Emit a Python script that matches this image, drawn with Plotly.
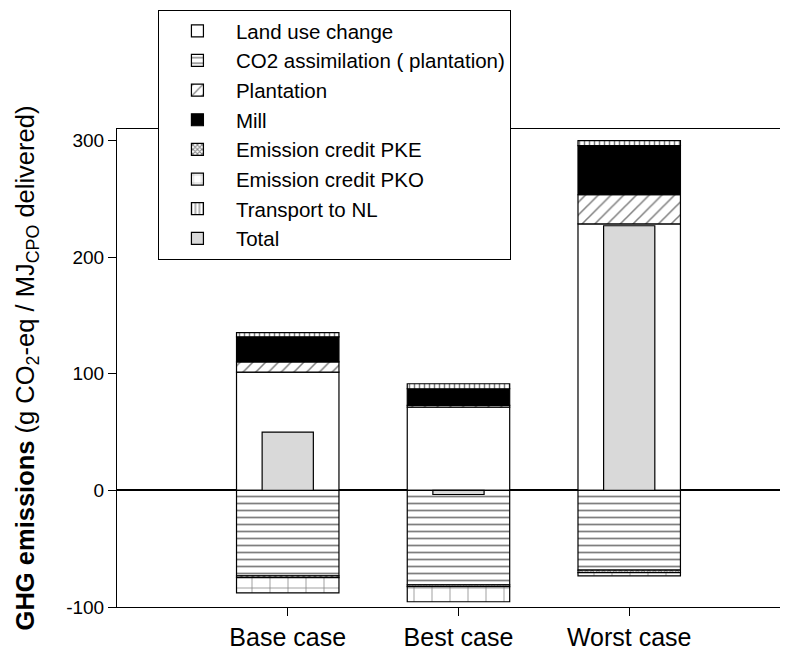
import numpy as np
import plotly.graph_objects as go

cases = ["Base case", "Best case", "Worst case"]
land_use = [101.5, 71.4, 228.6]
co2_assim = [-73.3, -81.0, -68.4]
plantation = [8.7, 1.5, 25.0]
mill = [21.5, 14.3, 42.2]
credit_pke = [-1.5, -1.5, -2.1]
credit_pko = [-13.0, -13.0, -2.8]
transport = [3.7, 4.3, 4.3]
total = [50.0, -3.5, 227.0]
y_ticks = [-100, 0, 100, 200, 300]
y_tick_labels = ["-100", "0", "100", "200", "300"]

pos_series = [
    ("Land use change", land_use, dict(shape="", fgcolor="black", bgcolor="white")),
    ("Plantation", plantation, dict(shape="/", fgcolor="black", bgcolor="white", size=9, solidity=0.17)),
    ("Mill", mill, dict(shape="", fgcolor="black", bgcolor="black")),
    ("Transport to NL", transport, dict(shape="|", fgcolor="black", bgcolor="white", size=5, solidity=0.3)),
]
neg_series = [
    ("CO2 assimilation ( plantation)", co2_assim, dict(shape="-", fgcolor="black", bgcolor="white", size=7, solidity=0.25)),
    ("Emission credit PKE", credit_pke, dict(shape="x", fgcolor="black", bgcolor="white", size=4, solidity=0.5)),
    ("Emission credit PKO", credit_pko, dict(shape="+", fgcolor="black", bgcolor="white", size=18, solidity=0.08)),
]
legend_rank = {
    "Land use change": 1, "CO2 assimilation ( plantation)": 2, "Plantation": 3, "Mill": 4,
    "Emission credit PKE": 5, "Emission credit PKO": 6, "Transport to NL": 7, "Total": 8,
}

fig = go.Figure()

def add_stack(series):
    base = np.zeros(len(cases))
    for name, vals, pat in series:
        vals = np.array(vals, dtype=float)
        color = "black" if name == "Mill" else "white"
        fig.add_trace(go.Bar(
            x=cases, y=vals, base=base.copy(), name=name, width=0.6,
            marker=dict(color=color, line=dict(color="black", width=1.2), pattern=pat),
            legendrank=legend_rank[name],
        ))
        base = base + vals

add_stack(pos_series)
add_stack(neg_series)

fig.add_trace(go.Bar(
    x=cases, y=total, name="Total", width=0.3,
    marker=dict(color="#d9d9d9", line=dict(color="black", width=1.2)),
    legendrank=legend_rank["Total"],
))

font_family = "Liberation Sans, Arial, sans-serif"
fig.update_layout(
    width=780, height=648,
    barmode="overlay",
    plot_bgcolor="white", paper_bgcolor="white",
    margin=dict(l=109, r=0, t=121, b=49, autoexpand=False),
    font=dict(family=font_family, color="black", size=19),
    showlegend=True,
    legend=dict(
        x=0.061, y=1.249, xanchor="left", yanchor="top",
        bgcolor="white", bordercolor="black", borderwidth=1,
        font=dict(size=20.5), traceorder="normal", itemwidth=67,
    ),
    xaxis=dict(
        range=[-1, 2.93], showline=True, linecolor="black", linewidth=1, mirror=True,
        ticks="outside", ticklen=8, tickcolor="black", showgrid=False,
        tickfont=dict(size=25), automargin=False,
    ),
    yaxis=dict(
        range=[-100, 310], tickvals=y_ticks, ticktext=y_tick_labels,
        showline=True, linecolor="black", linewidth=1,
        ticks="outside", ticklen=8, tickcolor="black", showgrid=False,
        zeroline=True, zerolinecolor="black", zerolinewidth=1.5,
        tickfont=dict(size=19), automargin=False,
        title=dict(text="<b>GHG emissions</b> (g CO<sub>2</sub>-eq / MJ<sub>CPO</sub> delivered)",
                   font=dict(size=25.5), standoff=24),
    ),
)

fig.write_html("out.html")
